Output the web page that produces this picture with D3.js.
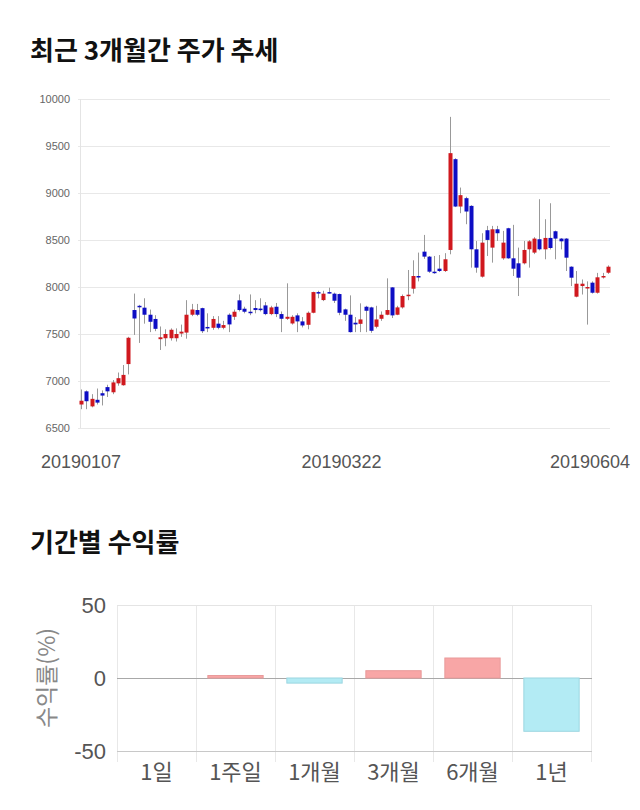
<!DOCTYPE html>
<html>
<head>
<meta charset="utf-8">
<script src="https://cdn.jsdelivr.net/npm/d3@7/dist/d3.min.js"></script>
<style>
  html, body { margin: 0; padding: 0; background: #fff; }
  svg { display: block; }
</style>
</head>
<body>
<svg id="chart" width="640" height="810"></svg>
<script>
// ---------- Data: candlestick (3 months) ----------
const openP = [6750,6890,6730,6800,6870,6935,6880,6975,6955,7180,
  7755,7800,7780,7705,7660,7445,7455,7455,7455,7505,
  7515,7705,7755,7775,7575,7566,7610,7566,7705,7683,
  7858,7769,7737,7776,7770,7804,7712,7790,7712,7662,
  7612,7698,7634,7598,7726,7946,7861,7946,7929,7925,
  7762,7705,7620,7608,7790,7783,7577,7662,7705,7996,
  7705,7783,7904,7982,8117,8376,8323,8163,8195,8170,
  8394,9360,8856,8945,8863,8401,8110,8604,8419,8614,
  8305,8625,8305,8252,8252,8401,8366,8508,8401,8522,
  8593,8515,8515,8216,7897,8010,7985,8046,7939,8103,8152];
const closeP = [6790,6785,6810,6770,6845,6890,6985,7030,7065,7460,
  7665,7790,7705,7630,7555,7465,7500,7545,7500,7525,
  7705,7760,7705,7530,7565,7660,7566,7595,7602,7737,
  7755,7737,7726,7755,7760,7712,7783,7712,7662,7683,
  7683,7634,7591,7726,7946,7940,7929,7936,7854,7726,
  7705,7520,7602,7655,7747,7534,7655,7705,7755,7698,
  7783,7904,7918,8117,8103,8323,8163,8152,8170,8295,
  9424,8856,8977,8803,8401,8206,8472,8501,8614,8572,
  8472,8305,8195,8099,8394,8486,8515,8401,8522,8415,
  8515,8486,8312,8099,8035,8035,8000,7939,8103,8117,8216];
const highP = [6910,6900,6860,6920,6900,6960,7010,7090,7170,7470,
  7930,7810,7880,7760,7700,7580,7550,7560,7560,7600,
  7860,7820,7820,7780,7720,7690,7690,7640,7720,7760,
  7921,7790,7921,7860,7880,7840,7800,7830,7740,8039,
  7700,7720,7680,7740,7950,7960,7960,7993,7940,7930,
  7770,7911,7680,7826,7800,7790,7800,7740,8092,8000,
  7800,7920,8181,8284,8366,8554,8330,8330,8340,8360,
  9810,9370,9058,8960,8870,8490,8572,8650,8650,8650,
  8597,8630,8661,8419,8490,8500,8530,8934,8721,8891,
  8600,8520,8520,8220,8170,8080,8060,8060,8150,8150,8230];
const lowP = [6700,6700,6720,6750,6740,6830,6860,6950,6950,7070,
  7490,7405,7610,7520,7530,7330,7370,7430,7420,7470,
  7450,7690,7690,7510,7520,7545,7550,7550,7520,7650,
  7740,7720,7700,7720,7740,7700,7700,7680,7520,7650,
  7600,7520,7570,7550,7720,7880,7850,7930,7830,7700,
  7640,7515,7520,7520,7520,7513,7560,7640,7700,7670,
  7700,7770,7860,7930,8060,8300,8150,8140,8160,8160,
  8348,8850,8785,8668,8206,8152,8100,8330,8259,8490,
  8290,8300,8117,7904,8240,8206,8350,8390,8295,8400,
  8295,8400,8170,8010,7890,7920,7600,7930,7930,8090,8140];
const priceTicks = [6500,7000,7500,8000,8500,9000,9500,10000];
const dateLabels = ["20190107","20190322","20190604"];
const dateLabelIdx = [0,50,100];

// ---------- Data: returns by period ----------
const periods = ["1일","1주일","1개월","3개월","6개월","1년"];
const returnsPct = [0, 1.7, -3.5, 5.0, 13.7, -36.5];
const returnTicks = [-50, 0, 50];

const svg = d3.select("#chart");
const KR = "'Noto Sans CJK KR', 'Noto Sans', sans-serif";
const NUM = "'Liberation Sans', Arial, 'Noto Sans CJK KR', sans-serif";

// ---------- Titles ----------
svg.append("text").attr("x", 30).attr("y", 60)
  .attr("font-family", KR).attr("font-weight", "bold").attr("font-size", 26)
  .attr("fill", "#111").text("최근 3개월간 주가 추세");
svg.append("text").attr("x", 30).attr("y", 552)
  .attr("font-family", KR).attr("font-weight", "bold").attr("font-size", 26)
  .attr("fill", "#111").text("기간별 수익률");

// ---------- Candlestick chart ----------
const candles = openP.map((o, i) => ({i, o, c: closeP[i], h: highP[i], l: lowP[i]}));
const x = d3.scalePoint().domain(d3.range(candles.length)).range([81, 608]);
const y = d3.scaleLinear().domain([6500, 10000]).range([428, 99]);

const gTop = svg.append("g");
gTop.append("g").selectAll("line").data(priceTicks).join("line")
  .attr("x1", 78).attr("x2", 610)
  .attr("y1", d => Math.round(y(d)) + 0.5).attr("y2", d => Math.round(y(d)) + 0.5)
  .attr("stroke", "#e8e8e8").attr("stroke-width", 1);
gTop.append("line").attr("x1", 80.5).attr("x2", 80.5).attr("y1", y(10000)).attr("y2", y(6500))
  .attr("stroke", "#e4e4e4");
gTop.append("g").selectAll("text").data(priceTicks).join("text")
  .attr("x", 70).attr("y", d => y(d) + 4)
  .attr("text-anchor", "end").attr("font-family", NUM).attr("font-size", 11)
  .attr("fill", "#666").text(d => d);
gTop.append("g").selectAll("text").data(dateLabelIdx).join("text")
  .attr("x", (d, k) => k === dateLabelIdx.length - 1 ? 630 : x(d) - (k === 0 ? 0 : 3))
  .attr("y", 468)
  .attr("text-anchor", (d, k) => k === dateLabelIdx.length - 1 ? "end" : "middle")
  .attr("font-family", NUM).attr("font-size", 18).attr("fill", "#555")
  .text((d, k) => dateLabels[k]);

gTop.append("g").selectAll("line").data(candles).join("line")
  .attr("x1", d => Math.round(x(d.i)) + 0.5).attr("x2", d => Math.round(x(d.i)) + 0.5)
  .attr("y1", d => y(d.h)).attr("y2", d => y(d.l))
  .attr("stroke", "#999").attr("stroke-width", 1);
const bw = 4;
gTop.append("g").selectAll("rect").data(candles).join("rect")
  .attr("x", d => Math.round(x(d.i)) + 0.5 - bw / 2)
  .attr("width", bw)
  .attr("y", d => y(Math.max(d.o, d.c)))
  .attr("height", d => Math.max(1.5, Math.abs(y(d.o) - y(d.c))))
  .attr("fill", d => d.c >= d.o ? "#d0181e" : "#0d0dc4");

// ---------- Returns bar chart ----------
const bx = d3.scaleBand().domain(periods).range([118, 592]).paddingInner(0.3).paddingOuter(0.15);
const by = d3.scaleLinear().domain([-50, 50]).range([751, 605]);
const gBot = svg.append("g");

const bounds = d3.range(periods.length + 1).map(k => 118 + k * bx.step());
gBot.append("g").selectAll("line").data(bounds).join("line")
  .attr("x1", d => Math.round(d) - 0.5).attr("x2", d => Math.round(d) - 0.5)
  .attr("y1", by(50)).attr("y2", by(-50) + 11)
  .attr("stroke", "#e8e8e8");
gBot.append("g").selectAll("line").data(returnTicks).join("line")
  .attr("x1", 117).attr("x2", 592)
  .attr("y1", d => Math.round(by(d)) + 0.5).attr("y2", d => Math.round(by(d)) + 0.5)
  .attr("stroke", d => d === 0 ? "#a8a8a8" : (d === -50 ? "#c8c8c8" : "#e4e4e4"));
gBot.append("g").selectAll("text").data(returnTicks).join("text")
  .attr("x", 106).attr("y", d => by(d) + 8)
  .attr("text-anchor", "end").attr("font-family", NUM).attr("font-size", 22)
  .attr("fill", "#555").text(d => d);
gBot.append("text")
  .attr("transform", `translate(55, ${by(0)}) rotate(-90)`)
  .attr("text-anchor", "middle").attr("font-family", KR).attr("font-size", 23)
  .attr("fill", "#888").text("수익률(%)");
gBot.append("g").selectAll("rect").data(periods.map((p, k) => ({p, v: returnsPct[k]}))).join("rect")
  .filter(d => d.v !== 0)
  .attr("x", d => bx(d.p) - 1)
  .attr("width", bx.bandwidth())
  .attr("y", d => by(Math.max(0, d.v)))
  .attr("height", d => Math.abs(by(d.v) - by(0)))
  .attr("fill", d => d.v >= 0 ? "#f8a6a6" : "#b3ebf4")
  .attr("stroke", d => d.v >= 0 ? "#e99a9a" : "#9cd6e0")
  .attr("stroke-width", 1);
gBot.append("g").selectAll("text").data(periods).join("text")
  .attr("x", d => bx(d) + bx.bandwidth() / 2 - 1).attr("y", 780)
  .attr("text-anchor", "middle").attr("font-family", KR).attr("font-size", 22)
  .attr("fill", "#555").text(d => d);
</script>
</body>
</html>
